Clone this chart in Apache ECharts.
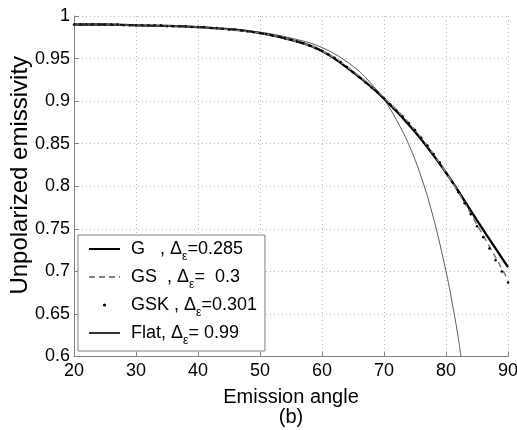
<!DOCTYPE html>
<html><head><meta charset="utf-8">
<script src="https://cdn.jsdelivr.net/npm/echarts@6/dist/echarts.min.js"></script>
<style>html,body{margin:0;padding:0;background:#fff}#c{width:517px;height:430px}</style>
</head><body><div id="c"></div>
<script>
// ---- data ----
const gAngles  = [20, 25, 30, 35, 40, 45, 50, 55, 60, 65, 70, 75, 80, 85, 90];
const gValues  = [0.990, 0.990, 0.989, 0.9885, 0.987, 0.9845, 0.980, 0.972, 0.959, 0.934, 0.903, 0.864, 0.816, 0.760, 0.705];

const gsAngles = [20, 25, 30, 35, 40, 45, 50, 55, 60, 65, 70, 75, 80, 85, 90];
const gsValues = [0.990, 0.990, 0.989, 0.9885, 0.987, 0.984, 0.980, 0.972, 0.959, 0.935, 0.904, 0.866, 0.816, 0.755, 0.690];

const gskAngles = [20,21,22,23,24,25,26,27,28,29,30,31,32,33,34,35,36,37,38,39,40,41,42,43,44,45,46,47,48,49,50,51,52,53,54,55,56,57,58,59,60,61,62,63,64,65,66,67,68,69,70,71,72,73,74,75,76,77,78,79,80,81,82,83,84,85,86,87,88,89,90];
const gskValues = [0.990,0.990,0.990,0.990,0.990,0.990,0.990,0.990,0.989,0.989,
                   0.989,0.989,0.989,0.989,0.989,0.988,0.988,0.988,0.988,0.987,
                   0.987,0.987,0.986,0.986,0.985,0.984,0.984,0.983,0.982,0.981,
                   0.980,0.979,0.977,0.976,0.974,0.972,0.970,0.968,0.965,0.962,
                   0.959,0.955,0.951,0.946,0.940,0.934,0.928,0.922,0.916,0.910,
                   0.903,0.896,0.889,0.882,0.874,0.866,0.857,0.848,0.838,0.828,
                   0.816,0.805,0.793,0.780,0.767,0.753,0.740,0.727,0.713,0.700,
                   0.687];

const flatAngles = [20, 30, 40, 45, 50, 55, 60, 65, 68, 70, 72, 74, 76, 78, 80, 81, 82, 82.4];
const flatValues = [0.990, 0.989, 0.987, 0.985, 0.981, 0.974, 0.963, 0.941, 0.920, 0.902, 0.878, 0.849, 0.811, 0.762, 0.700, 0.663, 0.621, 0.600];

const seriesNames = ['G', 'GS', 'GSK', 'Flat'];
const legendLabels = {
  'G':    '{a|G   , Δ}{s|ε}{a|=0.285}',
  'GS':   '{a|GS  , Δ}{s|ε}{a|=  0.3}',
  'GSK':  '{a|GSK , Δ}{s|ε}{a|=0.301}',
  'Flat': '{a|Flat, Δ}{s|ε}{a|= 0.99}'
};
const xMin = 20, xMax = 90, xStep = 10;
const yMin = 0.6, yMax = 1, yStep = 0.05;

const FONT = '"Liberation Sans", Arial, Helvetica, sans-serif';
const pairs = (xs, ys) => xs.map((x, i) => [x, ys[i]]);

const chart = echarts.init(document.getElementById('c'), null, {renderer: 'canvas'});
chart.setOption({
  animation: false,
  backgroundColor: '#fff',
  textStyle: {fontFamily: FONT},
  title: {
    text: '(b)', left: 291, textAlign: 'center', top: 407, padding: 0,
    textStyle: {fontSize: 20, fontWeight: 'normal', color: '#000', fontFamily: FONT}
  },
  grid: {left: 74, right: 9, top: 16, bottom: 73.5, containLabel: false, outerBoundsMode: 'none'},
  xAxis: {
    type: 'value', min: xMin, max: xMax, interval: xStep,
    name: 'Emission angle', nameLocation: 'middle', nameGap: 31,
    nameTextStyle: {fontSize: 20, color: '#000', fontFamily: FONT},
    axisLine: {show: true, lineStyle: {color: '#808080', width: 1}},
    axisTick: {show: true, inside: true, length: 5, lineStyle: {color: '#808080'}},
    axisLabel: {fontSize: 18, color: '#000', margin: 6, fontFamily: FONT},
    splitLine: {show: true, lineStyle: {color: '#b8b8b8', type: [1, 3], width: 1}}
  },
  yAxis: {
    type: 'value', min: yMin, max: yMax, interval: yStep,
    name: 'Unpolarized emissivity', nameLocation: 'middle', nameGap: 42, nameRotate: 90,
    nameMoveOverlap: false,
    nameTextStyle: {fontSize: 24, color: '#000', fontFamily: FONT, padding: [0, 0, 0, 22]},
    axisLine: {show: true, lineStyle: {color: '#808080', width: 1}},
    axisTick: {show: true, inside: true, length: 5, lineStyle: {color: '#808080'}},
    axisLabel: {fontSize: 18, color: '#000', margin: 4, fontFamily: FONT},
    splitLine: {show: true, lineStyle: {color: '#b8b8b8', type: [1, 3], width: 1}}
  },
  legend: {
    orient: 'vertical', left: 78, top: 235,
    data: [
      {name: 'G', itemStyle: {opacity: 0}},
      {name: 'GS', itemStyle: {opacity: 0}},
      {name: 'GSK', lineStyle: {opacity: 0}},
      {name: 'Flat', itemStyle: {opacity: 0}}
    ],
    itemWidth: 31, itemHeight: 4, itemGap: 5,
    padding: [5, 8, 4, 10],
    borderColor: '#808080', borderWidth: 1, backgroundColor: '#fff',
    selectedMode: false,
    formatter: name => legendLabels[name],
    textStyle: {
      padding: [0, 0, 0, 6],
      rich: {
        a: {fontSize: 18, lineHeight: 28, color: '#000', fontFamily: FONT},
        s: {fontSize: 12, lineHeight: 8, verticalAlign: 'bottom', color: '#000', fontFamily: FONT}
      }
    }
  },
  series: [
    {
      name: seriesNames[0], type: 'line', data: pairs(gAngles, gValues),
      smooth: 0.4, symbol: 'none', showSymbol: false, z: 3,
      lineStyle: {color: '#000', width: 2.3}, itemStyle: {color: '#000'}
    },
    {
      name: seriesNames[1], type: 'line', data: pairs(gsAngles, gsValues),
      smooth: 0.4, symbol: 'none', showSymbol: false, z: 4,
      lineStyle: {color: '#808080', width: 1.6, type: [6, 4]}, itemStyle: {color: '#808080'}
    },
    {
      name: seriesNames[2], type: 'line', data: pairs(gskAngles, gskValues),
      symbol: 'circle', symbolSize: 2.5, showSymbol: true, z: 5,
      lineStyle: {opacity: 0}, itemStyle: {color: '#000'}
    },
    {
      name: seriesNames[3], type: 'line', data: pairs(flatAngles, flatValues),
      smooth: 0.4, symbol: 'none', showSymbol: false, z: 6,
      lineStyle: {color: '#333', width: 0.8}, itemStyle: {color: '#333'}
    }
  ]
});
</script>
</body></html>
